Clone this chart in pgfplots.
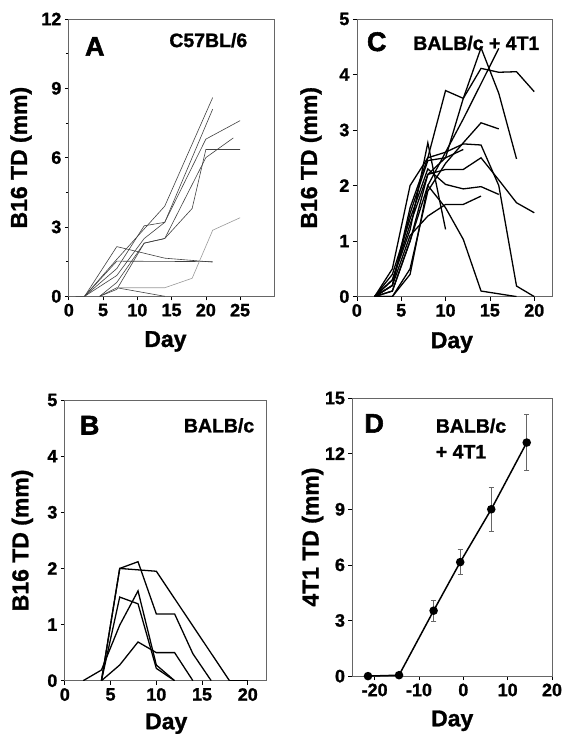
\documentclass[border=0pt]{standalone}
\usepackage{fontspec}
\setmainfont{Liberation Sans}
\usepackage{pgfplots}
\pgfplotsset{compat=1.18}

\font\tickf="Liberation Sans Bold:embolden=1.3" at 18bp
\font\labf="Liberation Sans Bold:embolden=1.3" at 23bp
\font\letf="Liberation Sans Bold:embolden=2" at 27bp
\font\strf="Liberation Sans Bold:embolden=1.3" at 19.5bp

\pgfplotsset{
  panel/.style={
    scale only axis,
    axis line style={black!60, line width=0.7bp},
    tick style={black, line width=0.7bp},
    tick align=outside,
    major tick length=4bp,
    minor tick length=3bp,
    xtick pos=bottom, ytick pos=left,
    tick label style={font=\tickf},
    label style={font=\labf},
    ylabel style={anchor=center},
    xlabel style={anchor=north, inner sep=0pt},
  },
}
\tikzset{
  thinA/.style={black!75, line width=0.6bp},
  thick/.style={black, line width=1.3bp},
  letter/.style={anchor=north west, inner sep=0pt, font=\letf},
  strain/.style={inner sep=0pt, font={\fontsize{19.5}{26}\selectfont\strf}},
}

\begin{document}
\begin{tikzpicture}
\path (0,0) rectangle (567bp,734bp);

% ---- A ----
\begin{axis}[panel, at={(69bp,437bp)}, anchor=south west,
  width=206bp, height=278bp,
  xmin=0, xmax=30, ymin=0, ymax=12,
  xtick={0,5,...,25}, xticklabels={0,5,10,15,20,25},
  ytick={0,3,...,12}, yticklabels={0,3,6,9,12}, minor y tick num=1,
  ylabel={B16 TD (mm)}, xlabel={Day},
  ylabel style={at={(rel axis cs:-0.233,0.5)}},
  xlabel style={at={(rel axis cs:0.47,-0.125)}}]
\addplot[thinA] coordinates {(1,0)(2.3,0)(7,1.6)(14,3.9)(21,8.6)};
\addplot[thinA] coordinates {(2.3,0)(7,1.2)(11,3.05)(14,3.2)(21,8.1)};
\addplot[thinA] coordinates {(2.3,0)(7,0.9)(11,2.5)(14,3.2)(20,6.8)(25,7.6)};
\addplot[thinA] coordinates {(4.5,0)(7,0.6)(11,2.3)(14,2.5)(20,6.0)(24,6.85)};
\addplot[thinA] coordinates {(4.5,0)(7,0.3)(11,2.3)(14,2.5)(18,3.8)(20,6.35)(25,6.35)};
\addplot[thinA] coordinates {(2.3,0)(7,2.15)(14,1.65)(21,1.48)};
\addplot[thinA] coordinates {(2.3,0)(7,1.52)(21,1.5)};
\addplot[thinA] coordinates {(4.5,0)(7,0.37)(14,0)};
\addplot[black!40, line width=0.6bp] coordinates {(7,0.37)(14,0.37)(18,0.78)(21,2.86)(25,3.4)};
\node[letter] at (rel axis cs:0.078,0.935) {A};
\node[strain, anchor=north east] at (rel axis cs:0.869,0.95) {C57BL/6};
\end{axis}

% ---- C ----
\begin{axis}[panel, at={(357.7bp,436.7bp)}, anchor=south west,
  width=195.6bp, height=278.3bp,
  xmin=0, xmax=22, ymin=0, ymax=5,
  xtick={0,5,...,20}, xticklabels={0,5,10,15,20},
  ytick={0,1,...,5}, yticklabels={0,1,2,3,4,5},
  ylabel={B16 TD (mm)}, xlabel={Day},
  ylabel style={at={(rel axis cs:-0.235,0.5)}},
  xlabel style={at={(rel axis cs:0.487,-0.128)}}]
\addplot[thick] coordinates {(2,0)(4,0.5)(6,2.0)(8,2.5)(10,2.6)(12,2.75)(14,2.73)(16,2.0)(18,0.19)(20,0)};
\addplot[thick] coordinates {(2,0)(4,0.3)(6,1.2)(8,2.77)(10,1.21)};
\addplot[thick] coordinates {(2,0)(4,0.2)(6,1.6)(8,2.5)(10,3.71)(12,3.57)(14,4.48)(16,3.66)(18,2.48)};
\addplot[thick] coordinates {(2,0)(4,0.1)(6,1.0)(8,2.2)(10,2.5)(12,3.57)(14,4.11)(16,4.04)(18,4.05)(20,3.69)};
\addplot[thick] coordinates {(2,0)(4,0)(6,0.5)(8,1.9)(10,2.4)(12,2.77)(14,3.13)(16,3.02)};
\addplot[thick] coordinates {(2,0)(4,0.4)(6,1.4)(8,2.3)(10,2.02)(12,1.94)(14,1.98)(16,1.84)};
\addplot[thick] coordinates {(2,0)(4,0.2)(6,1.1)(8,1.45)(10,1.66)(12,1.66)(14,1.81)};
\addplot[thick] coordinates {(2,0)(4,0.3)(6,1.3)(8,2.2)(10,2.29)(12,2.29)(14,2.5)(16,2.1)(18,1.69)(20,1.51)};
\addplot[thick] coordinates {(2,0)(4,0)(6,0.4)(8,2.0)(10,1.6)(12,1.03)(14,0.1)(18,0)};
\addplot[thick] coordinates {(2,0)(4,0.1)(6,1.0)(8,2.0)(10,2.6)(12,3.2)(16,4.47)};
\addplot[thick] coordinates {(2,0)(4,0.2)(6,1.5)(8,2.45)(10,2.5)(12,2.65)};
\node[letter] at (rel axis cs:0.051,0.953) {C};
\node[strain, anchor=north east] at (rel axis cs:0.936,0.94) {BALB/c + 4T1};
\end{axis}

% ---- B ----
\begin{axis}[panel, at={(65bp,51.7bp)}, anchor=south west,
  width=201.7bp, height=281.3bp,
  xmin=0, xmax=22, ymin=0, ymax=5,
  xtick={0,5,...,20}, xticklabels={0,5,10,15,20},
  ytick={0,1,...,5}, yticklabels={0,1,2,3,4,5},
  ylabel={B16 TD (mm)}, xlabel={Day},
  ylabel style={at={(rel axis cs:-0.211,0.5)}},
  xlabel style={at={(rel axis cs:0.504,-0.116)}}]
\addplot[thick] coordinates {(2,0)(4,0.19)(6,0.99)(8,1.6)(10,0.28)(12,0)};
\addplot[thick] coordinates {(4,0)(6,2.0)(8,2.12)(10,1.19)(12,1.19)(14,0.48)(16,0)};
\addplot[thick] coordinates {(4,0)(6,2.0)(10,1.95)(18,0)(20,0)};
\addplot[thick] coordinates {(4,0)(6,1.49)(8,1.37)(10,0.22)(12,0)};
\addplot[thick] coordinates {(4,0)(6,0.28)(8,0.69)(10,0.5)(12,0.5)(14,0)};
\node[letter] at (rel axis cs:0.074,0.944) {B};
\node[strain, anchor=north east] at (rel axis cs:0.942,0.936) {BALB/c};
\end{axis}

% ---- D ----
\begin{axis}[panel, at={(353.3bp,56.3bp)}, anchor=south west,
  width=200bp, height=278.7bp,
  xmin=-25, xmax=20, ymin=0, ymax=15,
  xtick={-20,-10,0,10,20}, xticklabels={-20,-10,0,10,20},
  ytick={0,3,...,15}, yticklabels={0,3,6,9,12,15},
  ylabel={4T1 TD (mm)}, xlabel={Day},
  ylabel style={at={(rel axis cs:-0.2,0.5)}},
  xlabel style={at={(rel axis cs:0.5,-0.123)}}]
\addplot[black, line width=1.5bp, mark=*, mark size=3.5bp,
  error bars/.cd, y dir=both, y explicit,
  error bar style={black!60, line width=0.7bp},
  error mark options={black!60, line width=0.7bp, mark size=2.7bp, rotate=90}]
  coordinates {
  (-21.5,0) +- (0,0)
  (-14.5,0.05) +- (0,0)
  (-6.7,3.53) +- (0,0.55)
  (-0.7,6.15) +- (0,0.67)
  (6.3,9.0) +- (0,1.18)
  (14.3,12.6) +- (0,1.5)
  };
\node[letter] at (rel axis cs:0.059,0.943) {D};
\node[strain, anchor=north west, align=left] at (rel axis cs:0.417,0.927) {BALB/c\\+ 4T1};
\end{axis}
\end{tikzpicture}
\end{document}
